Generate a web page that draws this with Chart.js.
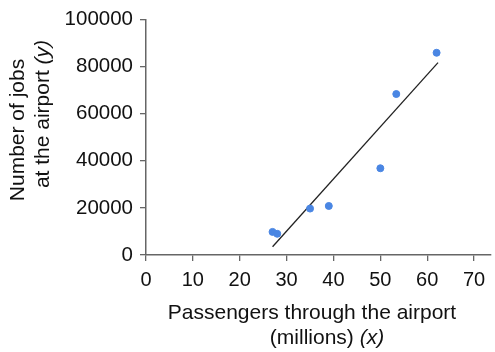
<!DOCTYPE html>
<html>
<head>
<meta charset="utf-8">
<script src="https://cdn.jsdelivr.net/npm/chart.js@4.4.0/dist/chart.umd.min.js"></script>
<style>
  html, body { margin: 0; padding: 0; background: #fff; }
  #wrap { width: 495px; height: 352px; position: relative; }
</style>
</head>
<body>
<div id="wrap"><canvas id="chart"></canvas></div>
<script>
// passengers (millions) and jobs at the airport
const passengers = [27, 28, 35, 39, 50, 53.4, 62];
const jobs = [9800, 9000, 19700, 20800, 36800, 68300, 85800];

// line of best fit, end points
const fitX = [27, 62.3];
const fitY = [3500, 81600];

const xTicks = [0, 10, 20, 30, 40, 50, 60, 70];
const yTicks = [0, 20000, 40000, 60000, 80000, 100000];

const FONT = "'Liberation Sans', Arial, sans-serif";

// draws the axis titles, with the (x) / (y) parts in italics
const axisTitles = {
  id: "axisTitles",
  afterDraw(chart) {
    const ctx = chart.ctx;
    const normal = "21px " + FONT;
    const italic = "italic 21px " + FONT;

    function drawMixed(parts, cx, cy) {
      let total = 0;
      parts.forEach((p) => {
        ctx.font = p.italic ? italic : normal;
        total += ctx.measureText(p.text).width;
      });
      let x = cx - total / 2;
      parts.forEach((p) => {
        ctx.font = p.italic ? italic : normal;
        ctx.fillText(p.text, x, cy);
        x += ctx.measureText(p.text).width;
      });
    }

    ctx.save();
    ctx.fillStyle = "#111";
    ctx.textBaseline = "middle";
    ctx.textAlign = "left";

    // x title
    drawMixed([{ text: "Passengers through the airport" }], 312, 313);
    drawMixed([{ text: "(millions) " }, { text: "(x)", italic: true }], 327, 338);

    // y title, rotated
    ctx.translate(18, 130);
    ctx.rotate(-Math.PI / 2);
    drawMixed([{ text: "Number of jobs" }], 0, 0);
    ctx.restore();

    ctx.save();
    ctx.fillStyle = "#111";
    ctx.textBaseline = "middle";
    ctx.textAlign = "left";
    ctx.translate(43, 114);
    ctx.rotate(-Math.PI / 2);
    drawMixed([{ text: "at the airport " }, { text: "(y)", italic: true }], 0, 0);
    ctx.restore();
  },
};

new Chart(document.getElementById("chart"), {
  type: "scatter",
  data: {
    datasets: [
      {
        label: "Airports",
        data: passengers.map((x, i) => ({ x: x, y: jobs[i] })),
        backgroundColor: "#4a86e3",
        borderColor: "#4a86e3",
        pointRadius: 3.5,
        pointHoverRadius: 3.5,
      },
      {
        type: "line",
        label: "Best fit",
        data: fitX.map((x, i) => ({ x: x, y: fitY[i] })),
        borderColor: "#222",
        borderWidth: 1.3,
        pointRadius: 0,
        fill: false,
      },
    ],
  },
  options: {
    responsive: true,
    maintainAspectRatio: false,
    animation: false,
    layout: {
      padding: { top: 19, right: 2, left: 0, bottom: 0 },
    },
    plugins: {
      legend: { display: false },
      tooltip: { enabled: false },
    },
    scales: {
      x: {
        type: "linear",
        min: 0,
        max: 73.5,
        afterBuildTicks: (scale) => {
          scale.ticks = xTicks.map((v) => ({ value: v }));
        },
        afterFit: (scale) => {
          scale.height = 97;
        },
        grid: {
          drawOnChartArea: false,
          drawTicks: true,
          tickLength: 6,
          color: "#666",
          lineWidth: 1.3,
        },
        border: { display: true, color: "#666", width: 1.5 },
        ticks: {
          color: "#111",
          font: { family: FONT, size: 20 },
          padding: 7,
          callback: (v) => String(v),
        },
      },
      y: {
        type: "linear",
        min: 0,
        max: 100000,
        afterBuildTicks: (scale) => {
          scale.ticks = yTicks.map((v) => ({ value: v }));
        },
        afterFit: (scale) => {
          scale.width = 146;
        },
        grid: {
          drawOnChartArea: false,
          drawTicks: true,
          tickLength: 6,
          color: "#666",
          lineWidth: 1.3,
        },
        border: { display: true, color: "#666", width: 1.5 },
        ticks: {
          color: "#111",
          font: { family: FONT, size: 20.5 },
          padding: 7,
          callback: (v) => String(v),
        },
      },
    },
  },
  plugins: [axisTitles],
});
</script>
</body>
</html>
